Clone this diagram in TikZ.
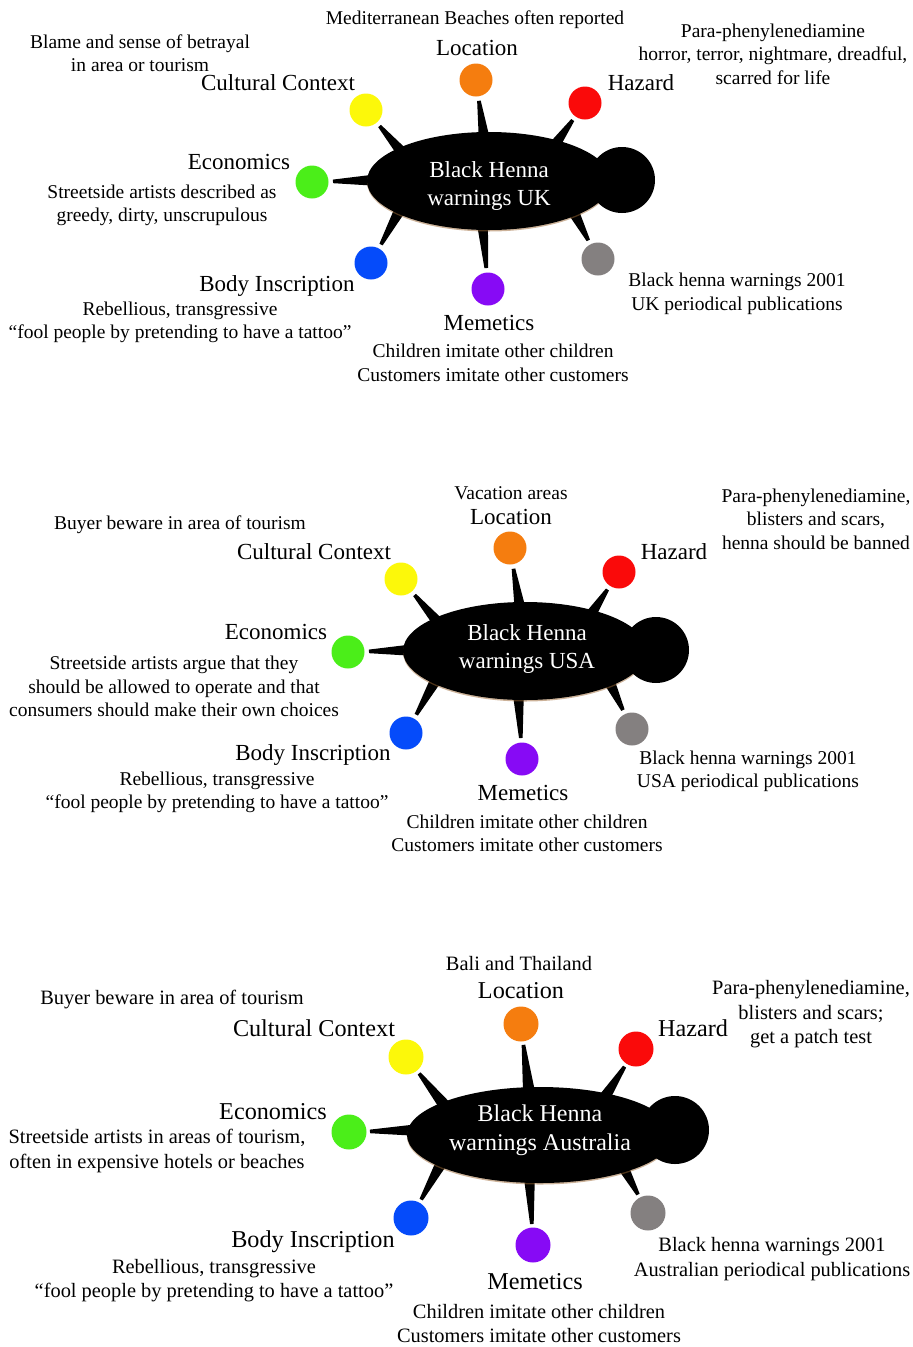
\documentclass[tikz,border=0pt]{standalone}
\usepackage{fontspec}
\setmainfont{Liberation Serif}
\usepackage{xcolor}
\usetikzlibrary{shapes}
\usetikzlibrary{calc}
\usetikzlibrary{shadows}
\definecolor{locorange}{RGB}{245,125,15}
\definecolor{hazred}{RGB}{250,10,10}
\definecolor{cultyellow}{RGB}{252,248,10}
\definecolor{econgreen}{RGB}{75,238,25}
\definecolor{inkblue}{RGB}{5,75,250}
\definecolor{memepurple}{RGB}{135,10,245}
\definecolor{pubgray}{RGB}{132,128,128}
\tikzstyle{body} = [ellipse, fill=black, inner sep=0pt,
                    drop shadow={shadow xshift=0pt, shadow yshift=-1.5pt,
                                 fill=brown!80!black, opacity=.5}]
\tikzstyle{bodytext} = [text=white, align=center, inner sep=0pt,
                        font=\fontsize{23}{27.6}\selectfont]
\tikzstyle{head} = [circle, fill=black, inner sep=0pt]
\tikzstyle{spot} = [circle, inner sep=0pt, minimum size=33pt]
\tikzstyle{lab} = [inner sep=0pt, text height=19pt, text depth=1.6pt,
                   font=\fontsize{23}{27.6}\selectfont]
\tikzstyle{desc} = [inner sep=0pt, align=center, yshift=-2pt,
                    font=\fontsize{19.5}{23.4}\selectfont]
% tapering leg: from the spot towards a point inside the body
\tikzstyle{leg} = [fill=black, to path={
  ($(\tikztostart)!21pt!(\tikztotarget)!1.8pt!90:(\tikztotarget)$)
  -- ($(\tikztotarget)!6pt!-90:(\tikztostart)$)
  -- ($(\tikztotarget)!6pt!90:(\tikztostart)$)
  -- ($(\tikztostart)!21pt!(\tikztotarget)!1.8pt!-90:(\tikztotarget)$) -- cycle}]

\begin{document}
\begin{tikzpicture}[x=1pt, y=-1pt]
  \useasboundingbox (0,0) rectangle (913,1347);

  % ---- UK ----
  \node [spot, fill=locorange]  (l1) at (476,80) {};
  \node [spot, fill=hazred]     (h1) at (585,103) {};
  \node [spot, fill=cultyellow] (c1) at (366,110) {};
  \node [spot, fill=econgreen]  (e1) at (312,182) {};
  \node [spot, fill=inkblue]    (b1) at (371,263) {};
  \node [spot, fill=memepurple] (m1) at (488,289) {};
  \node [spot, fill=pubgray]    (p1) at (598,259) {};
  \coordinate (l1b) at (485,144);
  \coordinate (h1b) at (552,149);
  \coordinate (c1b) at (405,156);
  \coordinate (e1b) at (379,180);
  \coordinate (b1b) at (402,206);
  \coordinate (m1b) at (482,218);
  \coordinate (p1b) at (572,209);
  \foreach \s in {l1,h1,c1,e1,b1,m1,p1}
    \path [leg] (\s) to (\s b);
  \node [body, minimum width=244pt, minimum height=98pt] (bd1) at (489,181) {};
  \node [head, minimum size=66pt] (hd1) at (622,180) {};
  \node [bodytext] (bt1) at (489,186) {Black Henna\\warnings UK};

  \node [desc] (l1d) at (475,18) {Mediterranean Beaches often reported};
  \node [lab]  (l1t) at (477,47) {Location};
  \node [desc] (c1d) at (140,51) {Blame and sense of betrayal\\in area or tourism};
  \node [lab]  (c1t) at (278,82) {Cultural Context};
  \node [lab]  (h1t) at (641,82) {Hazard};
  \node [desc] (h1d) at (773,52)
    {Para-phenylenediamine\\horror, terror, nightmare, dreadful,\\scarred for life};
  \node [lab]  (e1t) at (239,161) {Economics};
  \node [desc] (e1d) at (162,203.5)
    {Streetside artists described as\\greedy, dirty, unscrupulous};
  \node [lab]  (b1t) at (277,283) {Body Inscription};
  \node [desc] (b1d) at (180,320.5)
    {Rebellious, transgressive\\``fool people by pretending to have a tattoo''};
  \node [lab]  (m1t) at (489,322) {Memetics};
  \node [desc] (m1d) at (493,361)
    {Children imitate other children\\Customers imitate other customers};
  \node [desc] (p1d) at (737,292)
    {Black henna warnings 2001\\UK periodical publications};

  % ---- USA ----
  \node [spot, fill=locorange]  (l2) at (510,548) {};
  \node [spot, fill=hazred]     (h2) at (619,572) {};
  \node [spot, fill=cultyellow] (c2) at (401,579) {};
  \node [spot, fill=econgreen]  (e2) at (348,652) {};
  \node [spot, fill=inkblue]    (b2) at (406,733) {};
  \node [spot, fill=memepurple] (m2) at (522,759) {};
  \node [spot, fill=pubgray]    (p2) at (632,729) {};
  \coordinate (l2b) at (521,614);
  \coordinate (h2b) at (588,619);
  \coordinate (c2b) at (441,626);
  \coordinate (e2b) at (415,650);
  \coordinate (b2b) at (438,676);
  \coordinate (m2b) at (518,688);
  \coordinate (p2b) at (608,679);
  \foreach \s in {l2,h2,c2,e2,b2,m2,p2}
    \path [leg] (\s) to (\s b);
  \node [body, minimum width=244pt, minimum height=98pt] (bd2) at (525,651) {};
  \node [head, minimum size=66pt] (hd2) at (656,650) {};
  \node [bodytext] (bt2) at (527,649) {Black Henna\\warnings USA};

  \node [desc] (l2d) at (511,491) {Vacation areas};
  \node [lab]  (l2t) at (511,516) {Location};
  \node [desc] (c2d) at (180,523) {Buyer beware in area of tourism};
  \node [lab]  (c2t) at (314,551) {Cultural Context};
  \node [lab]  (h2t) at (674,551) {Hazard};
  \node [desc] (h2d) at (816,517)
    {Para-phenylenediamine,\\blisters and scars,\\henna should be banned};
  \node [lab]  (e2t) at (276,631) {Economics};
  \node [desc] (e2d) at (174,684.5)
    {Streetside artists argue that they\\should be allowed to operate and that\\consumers should make their own choices};
  \node [lab]  (b2t) at (313,752) {Body Inscription};
  \node [desc] (b2d) at (217,790.5)
    {Rebellious, transgressive\\``fool people by pretending to have a tattoo''};
  \node [lab]  (m2t) at (523,792) {Memetics};
  \node [desc] (m2d) at (527,831.5)
    {Children imitate other children\\Customers imitate other customers};
  \node [desc] (p2d) at (748,769.5)
    {Black henna warnings 2001\\USA periodical publications};

  % ---- Australia ----
  \begin{scope}[lab/.append style={font=\fontsize{24.2}{29}\selectfont},
                desc/.append style={font=\fontsize{20.4}{24.5}\selectfont},
                spot/.append style={minimum size=35pt}]
  \node [spot, fill=locorange]  (l3) at (521,1024) {};
  \node [spot, fill=hazred]     (h3) at (636,1049) {};
  \node [spot, fill=cultyellow] (c3) at (406,1057) {};
  \node [spot, fill=econgreen]  (e3) at (349,1132) {};
  \node [spot, fill=inkblue]    (b3) at (411,1218) {};
  \node [spot, fill=memepurple] (m3) at (533,1245) {};
  \node [spot, fill=pubgray]    (p3) at (648,1213) {};
  \coordinate (l3b) at (529,1092);
  \coordinate (h3b) at (603,1100);
  \coordinate (c3b) at (445,1106);
  \coordinate (e3b) at (419,1130);
  \coordinate (b3b) at (443,1160);
  \coordinate (m3b) at (529,1171);
  \coordinate (p3b) at (621,1163);
  \foreach \s in {l3,h3,c3,e3,b3,m3,p3}
    \path [leg] (\s) to (\s b);
  \node [body, minimum width=266pt, minimum height=96pt] (bd3) at (540,1135) {};
  \node [head, minimum size=68pt] (hd3) at (675,1130) {};
  \node [bodytext, font=\fontsize{24}{29}\selectfont] (bt3) at (540,1130)
    {Black Henna\\warnings Australia};

  \node [desc] (l3d) at (519,962) {Bali and Thailand};
  \node [lab]  (l3t) at (521,990) {Location};
  \node [desc] (c3d) at (172,998) {Buyer beware in area of tourism};
  \node [lab]  (c3t) at (314,1028) {Cultural Context};
  \node [lab]  (h3t) at (693,1028) {Hazard};
  \node [desc] (h3d) at (811,1012.5)
    {Para-phenylenediamine,\\blisters and scars;\\get a patch test};
  \node [lab]  (e3t) at (273,1111) {Economics};
  \node [desc] (e3d) at (157,1149)
    {Streetside artists in areas of tourism,\\often in expensive hotels or beaches};
  \node [lab]  (b3t) at (313,1239) {Body Inscription};
  \node [desc] (b3d) at (214,1278.5)
    {Rebellious, transgressive\\``fool people by pretending to have a tattoo''};
  \node [lab]  (m3t) at (535,1281) {Memetics};
  \node [desc] (m3d) at (539,1321.5)
    {Children imitate other children\\Customers imitate other customers};
  \node [desc] (p3d) at (772,1257)
    {Black henna warnings 2001\\Australian periodical publications};
  \end{scope}
\end{tikzpicture}
\end{document}
